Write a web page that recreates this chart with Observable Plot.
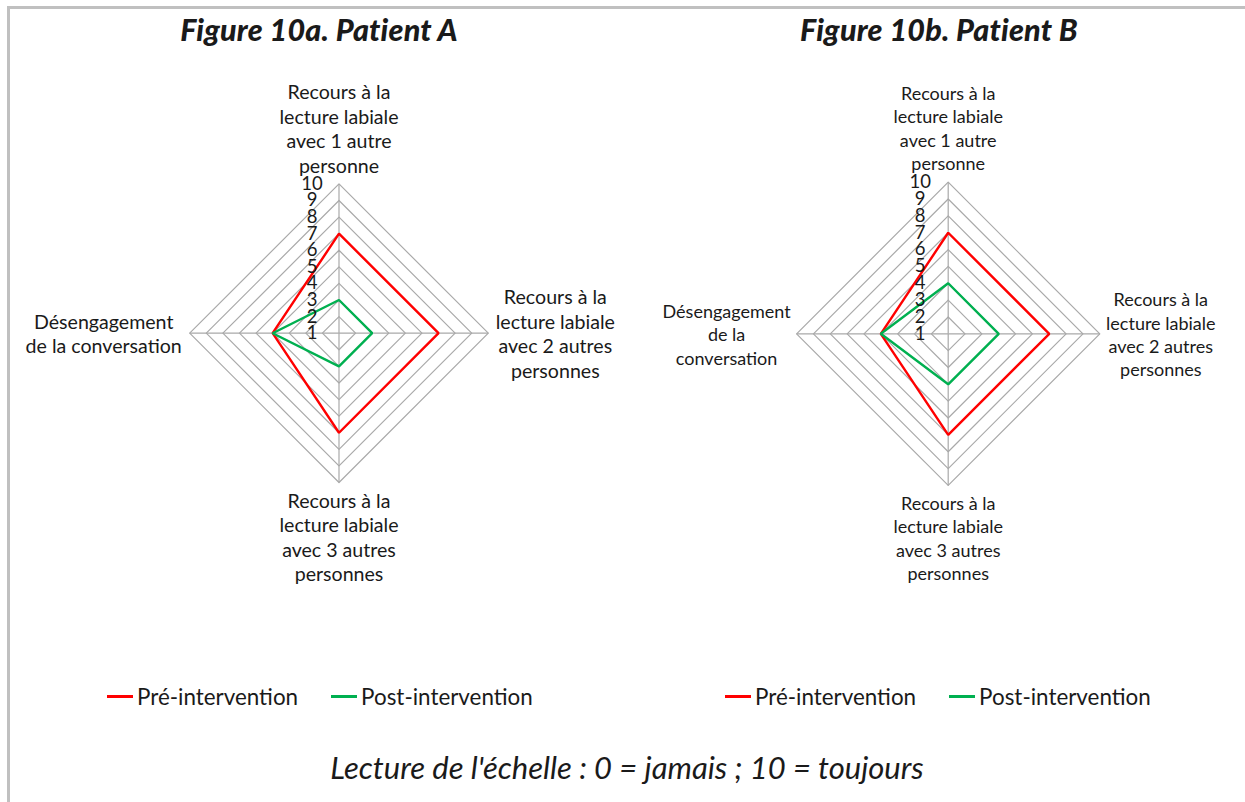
<!DOCTYPE html>
<html><head><meta charset="utf-8">
<script src="https://cdn.jsdelivr.net/npm/d3@7"></script>
<script src="https://cdn.jsdelivr.net/npm/@observablehq/plot@0.6"></script>
<style>
body{margin:0;background:#fff;}
#page{position:relative;width:1245px;height:802px;overflow:hidden;font-family:Lato,"Open Sans",sans-serif;color:#1a1a1a;background:#fff}
.bt{position:absolute;left:7px;top:6px;right:0;height:2.5px;background:#c0c0c0}
.bl{position:absolute;left:7px;top:6px;bottom:0;width:2.5px;background:#c0c0c0}
.title{position:absolute;top:11px;transform:translateX(-50%);font-weight:900;font-style:italic;font-size:30.5px;white-space:nowrap;letter-spacing:0.2px}
.chart{position:absolute}
.leg{position:absolute;top:683px;font-size:22.4px;white-space:nowrap;display:flex;align-items:center}
.sw{display:inline-block;width:26px;height:2.5px;margin-right:4px}
.caption{position:absolute;top:748px;left:627px;transform:translateX(-50%);font-style:italic;font-size:31px;white-space:nowrap}
</style></head>
<body>
<div id="page">
  <div class="bt"></div><div class="bl"></div>
  <div class="title" id="tA" style="left:319px"></div>
  <div class="title" id="tB" style="left:939px"></div>
  <div class="chart" id="cA" style="left:0px;top:60px"></div>
  <div class="chart" id="cB" style="left:622px;top:60px"></div>
  <div class="leg" id="lA" style="left:107px"></div>
  <div class="leg" id="lB" style="left:725px"></div>
  <div class="caption" id="cap"></div>
</div>
<script>
// ---- data ----
const titles = ["Figure 10a. Patient A", "Figure 10b. Patient B"];
const labelsA = ["Recours à la\nlecture labiale\navec 1 autre\npersonne",
                 "Recours à la\nlecture labiale\navec 2 autres\npersonnes",
                 "Recours à la\nlecture labiale\navec 3 autres\npersonnes",
                 "Désengagement\nde la conversation"];
const labelsB = ["Recours à la\nlecture labiale\navec 1 autre\npersonne",
                 "Recours à la\nlecture labiale\navec 2 autres\npersonnes",
                 "Recours à la\nlecture labiale\navec 3 autres\npersonnes",
                 "Désengagement\nde la\nconversation"];
const preA = [7, 7, 7, 5];
const postA = [3, 3, 3, 5];
const preB = [7, 7, 7, 5];
const postB = [4, 4, 4, 5];
const seriesNames = ["Pré-intervention", "Post-intervention"];
const seriesColors = ["#ff0000", "#00b050"];
const tickValues = [1, 2, 3, 4, 5, 6, 7, 8, 9, 10];
const scaleMin = 1, scaleMax = 10;
const caption = "Lecture de l'échelle : 0 = jamais ; 10 = toujours";

// ---- helpers ----
const nAx = 4;
function pt(i, v) {
  const r = v - scaleMin, a = i * 2 * Math.PI / nAx;
  return {x: r * Math.sin(a), y: r * Math.cos(a)};
}
function radar(o) {
  const rings = [];
  tickValues.filter(t => t > scaleMin).forEach(t => {
    for (let i = 0; i < nAx; i++) rings.push({level: t, ...pt(i, t)});
  });
  const spokes = d3.range(nAx).map(i => pt(i, scaleMax));
  const series = [];
  [o.pre, o.post].forEach((vals, s) => vals.forEach((v, i) => series.push({s, ...pt(i, v)})));
  const labs = o.labels.map((t, i) => ({t, i, ...pt(i, scaleMax)}));
  const u = o.unit;
  const txt = {lineHeight: o.lh, fontSize: o.fs, textAnchor: "middle", fill: "#1a1a1a"};
  return Plot.plot({
    width: o.width, height: o.height,
    margin: 0,
    x: {domain: [(o.left - o.cx) / u, (o.left + o.width - o.cx) / u], axis: null},
    y: {domain: [(o.cy - (o.top + o.height)) / u, (o.cy - o.top) / u], axis: null},
    style: {background: "transparent", overflow: "visible", fontFamily: "Lato, 'Open Sans', sans-serif", color: "#1a1a1a"},
    marks: [
      Plot.line(rings, {x: "x", y: "y", z: "level", curve: "linear-closed", stroke: "#a9a9a9", strokeWidth: 1.2}),
      Plot.link(spokes, {x1: 0, y1: 0, x2: "x", y2: "y", stroke: "#a9a9a9", strokeWidth: 1.2}),
      Plot.line(series.filter(d => d.s === 0), {x: "x", y: "y", curve: "linear-closed", stroke: seriesColors[0], strokeWidth: 2.4, strokeLinejoin: "miter"}),
      Plot.line(series.filter(d => d.s === 1), {x: "x", y: "y", curve: "linear-closed", stroke: seriesColors[1], strokeWidth: 2.4, strokeLinejoin: "miter"}),
      Plot.text(tickValues, {x: 0, y: d => d - scaleMin, text: d => String(d), dx: o.tickDx, fontSize: o.tickFs, textAnchor: "middle", fill: "#1a1a1a"}),
      Plot.text(labs.filter(d => d.i === 0), {x: "x", y: "y", text: "t", dy: o.topDy, lineAnchor: "bottom", ...txt}),
      Plot.text(labs.filter(d => d.i === 1), {x: "x", y: "y", text: "t", dx: o.rightDx, lineAnchor: "middle", ...txt}),
      Plot.text(labs.filter(d => d.i === 2), {x: "x", y: "y", text: "t", dy: o.botDy, lineAnchor: "top", ...txt}),
      Plot.text(labs.filter(d => d.i === 3), {x: "x", y: "y", text: "t", dx: o.leftDx, lineAnchor: "middle", ...txt})
    ]
  });
}
function legend(el) {
  seriesNames.forEach((n, i) => {
    const d = document.createElement("span");
    d.style.display = "inline-flex"; d.style.alignItems = "center";
    if (i > 0) d.style.marginLeft = "33px";
    const sw = document.createElement("span"); sw.className = "sw"; sw.style.background = seriesColors[i];
    d.appendChild(sw); d.appendChild(document.createTextNode(n));
    el.appendChild(d);
  });
}

document.getElementById("tA").textContent = titles[0];
document.getElementById("tB").textContent = titles[1];
document.getElementById("cap").textContent = caption;

document.getElementById("cA").appendChild(radar({
  left: 0, top: 60, width: 622, height: 600, cx: 338.5, cy: 332.7, unit: 149.3 / 9,
  labels: labelsA, pre: preA, post: postA, fs: 19.6, lh: 1.25, tickFs: 18.5, tickDx: -27,
  topDy: -11, rightDx: 67, botDy: 8, leftDx: -86
}));
document.getElementById("cB").appendChild(radar({
  left: 622, top: 60, width: 623, height: 600, cx: 947.7, cy: 333.3, unit: 151.6 / 9,
  labels: labelsB, pre: preB, post: postB, fs: 18, lh: 1.3, tickFs: 18.5, tickDx: -28,
  topDy: -12, rightDx: 61, botDy: 8, leftDx: -70
}));
legend(document.getElementById("lA"));
legend(document.getElementById("lB"));
</script>
</body></html>
